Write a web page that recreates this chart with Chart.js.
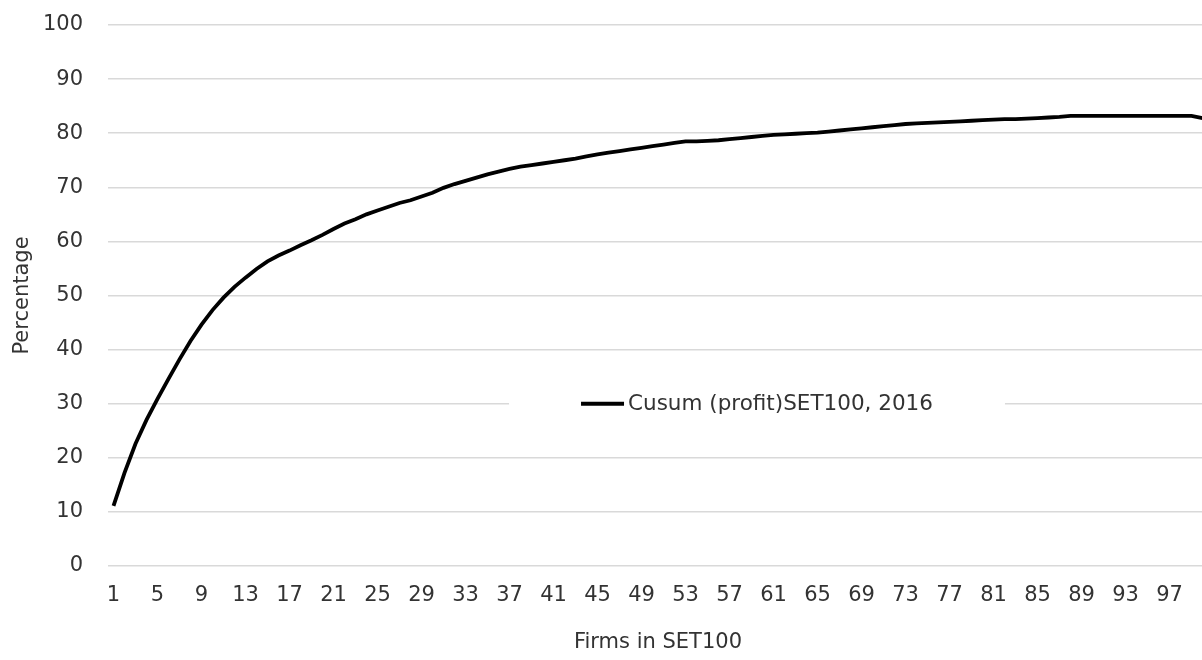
<!DOCTYPE html>
<html>
<head>
<meta charset="utf-8">
<script src="https://cdn.jsdelivr.net/npm/chart.js@4/dist/chart.umd.min.js"></script>
<style>
  html, body { margin: 0; padding: 0; background: #ffffff; overflow: hidden; }
  #wrap { position: relative; width: 1208px; height: 660px; }
</style>
</head>
<body>
<div id="wrap"><canvas id="chart"></canvas></div>
<script>
// Firm rank within SET100 (1 = most profitable)
const firms = [
  1, 2, 3, 4, 5, 6, 7, 8, 9, 10, 11, 12, 13, 14, 15, 16, 17, 18, 19, 20,
  21, 22, 23, 24, 25, 26, 27, 28, 29, 30, 31, 32, 33, 34, 35, 36, 37, 38, 39, 40,
  41, 42, 43, 44, 45, 46, 47, 48, 49, 50, 51, 52, 53, 54, 55, 56, 57, 58, 59, 60,
  61, 62, 63, 64, 65, 66, 67, 68, 69, 70, 71, 72, 73, 74, 75, 76, 77, 78, 79, 80,
  81, 82, 83, 84, 85, 86, 87, 88, 89, 90, 91, 92, 93, 94, 95, 96, 97, 98, 99, 100
];

// Cumulative share of total profit (%), SET100, 2016
const cusumProfit = [
  11.1, 17.2, 22.6, 27.0, 30.9, 34.6, 38.2, 41.6, 44.6, 47.3,
  49.6, 51.6, 53.3, 54.9, 56.3, 57.4, 58.3, 59.3, 60.2, 61.2,
  62.3, 63.3, 64.1, 65.0, 65.7, 66.4, 67.1, 67.6, 68.3, 69.0,
  69.9, 70.6, 71.2, 71.8, 72.4, 72.9, 73.4, 73.8, 74.1, 74.4,
  74.7, 75.0, 75.3, 75.7, 76.1, 76.4, 76.7, 77.0, 77.3, 77.6,
  77.9, 78.2, 78.5, 78.5, 78.6, 78.7, 78.9, 79.1, 79.3, 79.5,
  79.7, 79.8, 79.9, 80.0, 80.1, 80.3, 80.5, 80.7, 80.9, 81.1,
  81.3, 81.5, 81.7, 81.8, 81.9, 82.0, 82.1, 82.2, 82.3, 82.4,
  82.5, 82.6, 82.6, 82.7, 82.8, 82.9, 83.0, 83.2, 83.2, 83.2,
  83.2, 83.2, 83.2, 83.2, 83.2, 83.2, 83.2, 83.2, 83.2, 82.8
];

const seriesName = 'Cusum (profit)SET100, 2016';
const xTitle = 'Firms in SET100';
const yTitle = 'Percentage';
const yTicks = [0, 10, 20, 30, 40, 50, 60, 70, 80, 90, 100];

const FONT = '"DejaVu Sans", sans-serif';
const TEXT = '#333333';

// Legend drawn inside the plot on a white patch over the gridlines
const innerLegend = {
  id: 'innerLegend',
  beforeDatasetsDraw(chart) {
    const { ctx, chartArea: a } = chart;
    const ds = chart.data.datasets[0];
    const cx = a.left + a.width * 0.59;
    const cy = a.top + a.height * 0.70;
    ctx.save();
    ctx.font = '21.5px ' + FONT;
    const tw = ctx.measureText(ds.label).width;
    const lineLen = 43, gap = 4, pad = 72;
    const total = lineLen + gap + tw;
    const x0 = cx - total / 2;
    ctx.fillStyle = '#ffffff';
    ctx.fillRect(x0 - pad, cy - 14, total + pad * 2, 28);
    ctx.strokeStyle = ds.borderColor;
    ctx.lineWidth = 4;
    ctx.beginPath();
    ctx.moveTo(x0, cy);
    ctx.lineTo(x0 + lineLen, cy);
    ctx.stroke();
    ctx.fillStyle = TEXT;
    ctx.textBaseline = 'middle';
    ctx.textAlign = 'left';
    ctx.fillText(ds.label, x0 + lineLen + gap, cy + 1);
    ctx.restore();
  }
};

new Chart(document.getElementById('chart'), {
  type: 'line',
  data: {
    labels: firms,
    datasets: [{
      label: seriesName,
      data: cusumProfit,
      borderColor: '#000000',
      borderWidth: 3.8,
      pointRadius: 0,
      tension: 0,
      fill: false
    }]
  },
  options: {
    responsive: true,
    maintainAspectRatio: false,
    animation: false,
    layout: { padding: { top: 25, right: 0, bottom: 0, left: 0 } },
    plugins: {
      legend: { display: false },
      tooltip: { enabled: false }
    },
    scales: {
      x: {
        type: 'category',
        offset: true,
        grid: { display: false, drawTicks: false },
        border: { display: false },
        ticks: {
          autoSkip: false,
          maxRotation: 0,
          minRotation: 0,
          padding: 17,
          color: TEXT,
          font: { family: FONT, size: 21 },
          callback(value, index) {
            return index % 4 === 0 ? this.getLabelForValue(value) : '';
          }
        },
        title: {
          display: true,
          text: xTitle,
          color: TEXT,
          font: { family: FONT, size: 21 },
          padding: { top: 0, bottom: 5 }
        },
        afterFit(scale) {
          scale.height = 94;
          scale.paddingLeft = 0;
          scale.paddingRight = 0;
        }
      },
      y: {
        min: 0,
        max: 100,
        afterBuildTicks(scale) { scale.ticks = yTicks.map(v => ({ value: v })); },
        grid: { color: '#d9d9d9', lineWidth: 1.5, drawTicks: false },
        border: { display: false },
        ticks: {
          padding: 25,
          color: TEXT,
          font: { family: FONT, size: 21 }
        },
        title: {
          display: true,
          text: yTitle,
          color: TEXT,
          font: { family: FONT, size: 21 },
          padding: { top: 10, bottom: 0 }
        },
        afterFit(scale) {
          scale.width = 108;
          scale.paddingTop = 0;
          scale.paddingBottom = 0;
        }
      }
    }
  },
  plugins: [innerLegend]
});
</script>
</body>
</html>
